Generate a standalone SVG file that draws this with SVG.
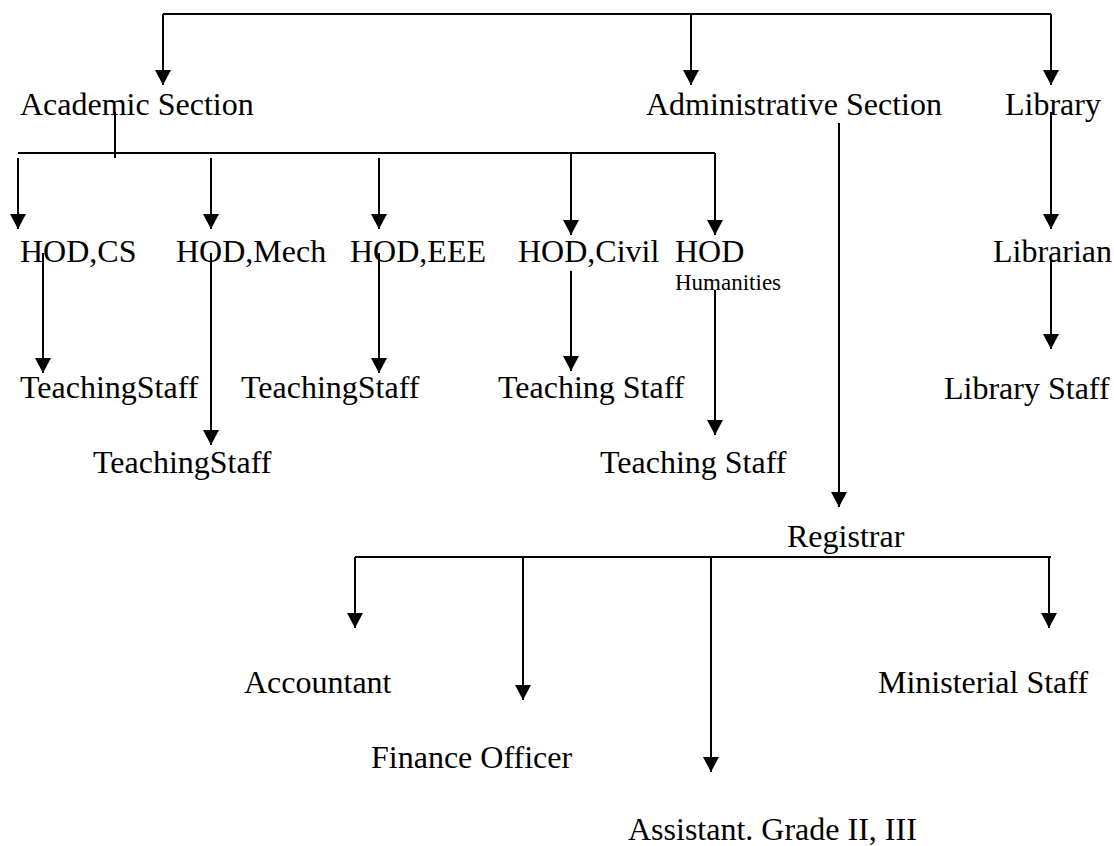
<svg xmlns="http://www.w3.org/2000/svg" width="1114" height="846" viewBox="0 0 1114 846">
<style>
  text { font-family: "Liberation Serif", "Times New Roman", serif; font-size: 32px; fill: #000; }
  .small { font-size: 23px; }
  .ln { fill: none; stroke: #000; stroke-width: 2; }
</style>
<defs>
  <marker id="ah" markerUnits="userSpaceOnUse" markerWidth="16" markerHeight="16" refX="15" refY="8" orient="auto" viewBox="0 0 16 16">
    <path d="M0,0 L15,8 L0,16 Z" fill="#000"/>
  </marker>
</defs>
<rect width="1114" height="846" fill="#fff"/>
<g id="connectors">
  <path class="ln" d="M163,14 L1051,14"/>
  <path class="ln" d="M163,14 L163,85" marker-end="url(#ah)"/>
  <path class="ln" d="M691,14 L691,85" marker-end="url(#ah)"/>
  <path class="ln" d="M1051,14 L1051,85" marker-end="url(#ah)"/>
  <path class="ln" d="M115,112 L115,158"/>
  <path class="ln" d="M18,153 L715,153"/>
  <path class="ln" d="M18,158 L18,229" marker-end="url(#ah)"/>
  <path class="ln" d="M211,158 L211,229" marker-end="url(#ah)"/>
  <path class="ln" d="M379,158 L379,229" marker-end="url(#ah)"/>
  <path class="ln" d="M571,153 L571,235" marker-end="url(#ah)"/>
  <path class="ln" d="M715,153 L715,235" marker-end="url(#ah)"/>
  <path class="ln" d="M43,253 L43,373" marker-end="url(#ah)"/>
  <path class="ln" d="M211,253 L211,445" marker-end="url(#ah)"/>
  <path class="ln" d="M379,253 L379,373" marker-end="url(#ah)"/>
  <path class="ln" d="M571,271 L571,371" marker-end="url(#ah)"/>
  <path class="ln" d="M715,290 L715,435" marker-end="url(#ah)"/>
  <path class="ln" d="M839,123 L839,507" marker-end="url(#ah)"/>
  <path class="ln" d="M1051,112 L1051,229" marker-end="url(#ah)"/>
  <path class="ln" d="M1051,260 L1051,349" marker-end="url(#ah)"/>
  <path class="ln" d="M355,557 L1051,557"/>
  <path class="ln" d="M355,557 L355,628" marker-end="url(#ah)"/>
  <path class="ln" d="M523,557 L523,700" marker-end="url(#ah)"/>
  <path class="ln" d="M711,557 L711,772" marker-end="url(#ah)"/>
  <path class="ln" d="M1049,557 L1049,628" marker-end="url(#ah)"/>
</g>
<g id="academic"><text x="20" y="115">Academic Section</text></g>
<g id="administrative"><text x="646" y="115">Administrative Section</text></g>
<g id="library"><text x="1005" y="115">Library</text></g>
<g id="hod-cs"><text x="20" y="262">HOD,CS</text></g>
<g id="hod-mech"><text x="176" y="262">HOD,Mech</text></g>
<g id="hod-eee"><text x="350" y="262">HOD,EEE</text></g>
<g id="hod-civil"><text x="518" y="262">HOD,Civil</text></g>
<g id="hod-humanities"><text x="675" y="262">HOD</text><text class="small" x="675" y="290">Humanities</text></g>
<g id="librarian"><text x="993" y="262">Librarian</text></g>
<g id="ts-cs"><text x="20" y="398">TeachingStaff</text></g>
<g id="ts-eee"><text x="241" y="398">TeachingStaff</text></g>
<g id="ts-civil"><text x="498" y="398">Teaching Staff</text></g>
<g id="library-staff"><text x="944" y="399">Library Staff</text></g>
<g id="ts-mech"><text x="93" y="473">TeachingStaff</text></g>
<g id="ts-humanities"><text x="600" y="473">Teaching Staff</text></g>
<g id="registrar"><text x="787" y="547">Registrar</text></g>
<g id="accountant"><text x="244" y="693">Accountant</text></g>
<g id="ministerial"><text x="878" y="693">Ministerial Staff</text></g>
<g id="finance"><text x="371" y="768">Finance Officer</text></g>
<g id="assistant"><text x="628" y="840">Assistant. Grade II, III</text></g>
</svg>
